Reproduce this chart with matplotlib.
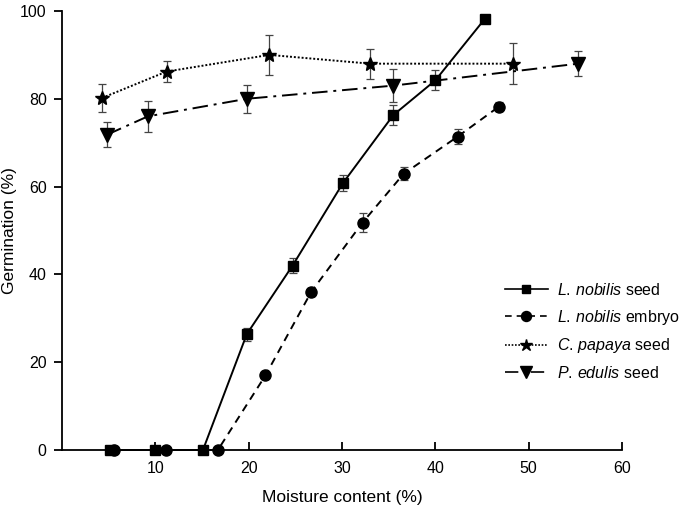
import matplotlib
matplotlib.use('Agg')
import matplotlib.pyplot as plt
from matplotlib.lines import Line2D

plt.rcParams['font.family'] = ['Liberation Sans', 'DejaVu Sans']
plt.rcParams['mathtext.fontset'] = 'custom'
plt.rcParams['mathtext.rm'] = 'Liberation Sans'
plt.rcParams['mathtext.it'] = 'Liberation Sans:italic'

# L. nobilis seed
seed_x   = [5.1, 10.0, 15.1, 19.8, 24.7, 30.1, 35.5, 40.0, 45.3]
seed_y   = [0, 0, 0, 26.4, 42.0, 60.8, 76.3, 84.2, 98.2]
seed_err = [0, 0, 0, 1.5, 1.7, 1.8, 2.3, 2.3, 0]

# L. nobilis embryo
emb_x   = [5.6, 11.1, 16.7, 21.8, 26.7, 32.2, 36.6, 42.4, 46.8]
emb_y   = [0, 0, 0, 17.0, 36.0, 51.8, 62.9, 71.4, 78.2]
emb_err = [0, 0, 0, 0, 1.0, 2.1, 1.5, 1.8, 1.0]

# C. papaya seed
pap_x   = [4.3, 11.2, 22.2, 33.0, 48.3]
pap_y   = [80.2, 86.2, 90.0, 88.0, 88.0]
pap_err = [3.2, 2.3, 4.5, 3.4, 4.6]

# P. edulis seed
edu_x   = [4.8, 9.2, 19.8, 35.5, 55.3]
edu_y   = [71.8, 76.0, 80.0, 83.0, 88.0]
edu_err = [2.8, 3.5, 3.2, 3.7, 2.8]

labels = [r'$\it{L.\,nobilis}$ seed', r'$\it{L.\,nobilis}$ embryo',
          r'$\it{C.\,papaya}$ seed', r'$\it{P.\,edulis}$ seed']

fig = plt.figure(figsize=(6.83, 5.11), dpi=100)
ax = fig.add_axes([0.0908, 0.1194, 0.8199, 0.8591])

ebkw = dict(ecolor='#444444', elinewidth=0.9, capsize=3, capthick=0.9, clip_on=False)

styles = [
    (seed_x, seed_y, seed_err, '-', 's', 7),
    (emb_x, emb_y, emb_err, (0, (4, 3)), 'o', 8),
    (pap_x, pap_y, pap_err, (0, (1, 1)), '*', 10),
    (edu_x, edu_y, edu_err, (0, (8, 3, 1.5, 3)), 'v', 10),
]
handles = []
for (x, y, e, ls, mk, ms) in styles:
    ax.errorbar(x, y, yerr=e, color='black', ls=ls, lw=1.4, marker=mk, ms=ms, **ebkw)
    handles.append(Line2D([], [], color='black', ls=ls, lw=1.2, marker=mk, ms=ms * 0.9))

ax.set_xlim(0, 60)
ax.set_ylim(0, 100)
ax.set_xticks([10, 20, 30, 40, 50, 60])
ax.set_yticks([0, 20, 40, 60, 80, 100])
ax.spines['top'].set_visible(False)
ax.spines['right'].set_visible(False)
ax.spines['left'].set_linewidth(1.3)
ax.spines['bottom'].set_linewidth(1.3)
ax.tick_params(axis='x', direction='in', length=6, width=1.3, labelsize=11.5, pad=8)
ax.tick_params(axis='y', direction='out', length=6, width=1.3, labelsize=11.5, pad=5)

ax.set_xlabel('Moisture content (%)', fontsize=12.5, labelpad=10)
ax.set_ylabel('Germination (%)', fontsize=12.5)
ax.yaxis.set_label_coords(-0.08, 0.5)

ax.legend(handles, labels, loc='center left', bbox_to_anchor=(0.765, 0.27), frameon=False,
          fontsize=11.5, handlelength=2.7, labelspacing=0.6, handletextpad=0.6)

fig.savefig('out.png', dpi=100)
